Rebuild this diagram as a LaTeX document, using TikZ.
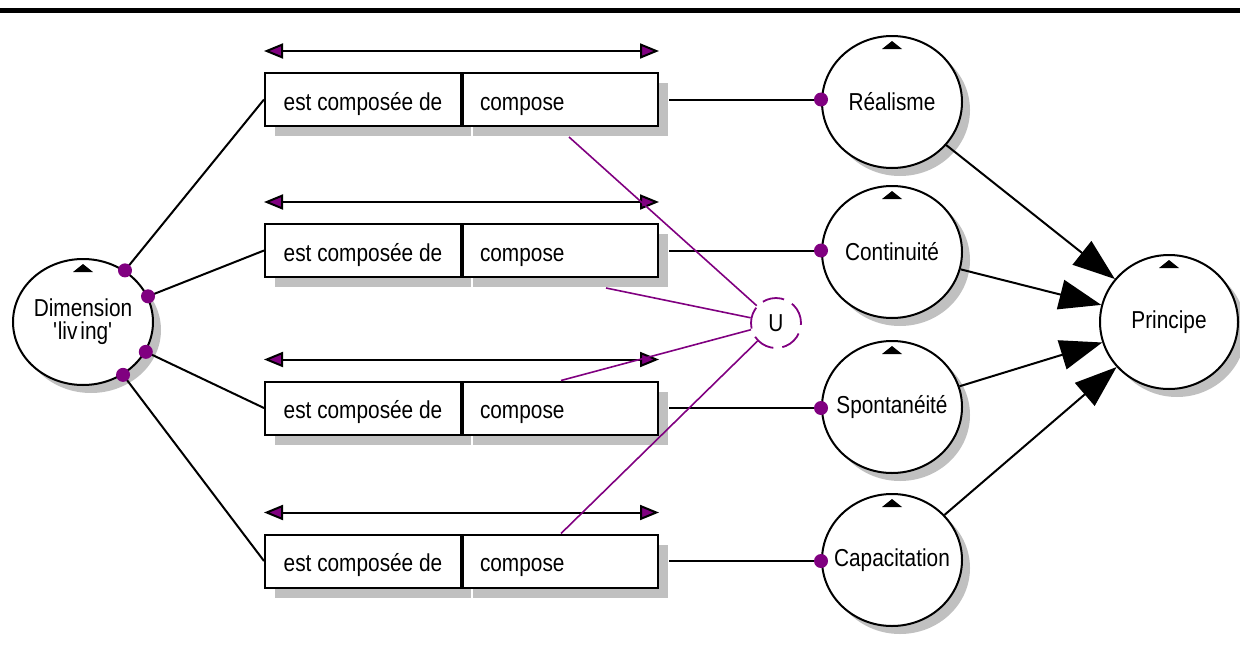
\documentclass[tikz,border=0pt]{standalone}
\usepackage{fontspec}
\setmainfont{Liberation Sans}[FakeStretch=0.85]
\usetikzlibrary{arrows.meta,shapes.geometric,shadows,calc}
\definecolor{pur}{RGB}{128,0,128}
\definecolor{shg}{RGB}{192,192,192}
\begin{document}
\begin{tikzpicture}[x=1pt,y=-1pt,font=\fontsize{24.5}{23}\selectfont,
  shd/.style={drop shadow={shadow xshift=#1, shadow yshift=-#1, fill=shg, opacity=1}},
  box/.style={draw, line width=2pt, fill=white, minimum height=53pt, inner sep=0pt,
    text height=24pt, text depth=3pt,
    drop shadow={shadow xshift=10pt, shadow yshift=-10pt, fill=shg, opacity=1}},
  boxl/.style={box, minimum width=196pt},
  boxr/.style={box, anchor=west, inner xsep=17pt, text width=161pt, align=left},
  circ/.style={ellipse, draw, line width=2pt, fill=white, inner sep=0pt,
    minimum width=140pt, minimum height=132pt, shd=8pt},
  ctext/.style={label={[align=center]center:#1}},
  conn/.style={line width=2pt},
  dbl/.style={line width=2pt, {Triangle[length=19pt,width=15pt,fill=pur]}-{Triangle[length=19pt,width=15pt,fill=pur]}},
  big/.style={line width=2pt, -{Triangle[length=42pt,width=30pt]}},
  uline/.style={pur, line width=1.6pt},
  dot/.style={pur},
]
\useasboundingbox (0,0) rectangle (1240,656);
\draw[line width=4.5pt] (0,10.3) -- (1240,10.3);

% left circle
\node[circ, minimum width=140pt, minimum height=126pt,
  ctext={Dimension\\\textquotesingle liv\hspace{3pt}ing\textquotesingle}] (dim) at (83,322) {};

% boxes
\foreach \i/\y in {1/99.5,2/250.5,3/408,4/561}{
  \node[boxl] (b\i l) at (363,\y) {est composée de};
  \node[boxr] (b\i r) at (b\i l.east) {compose};
  \draw[dbl] ([yshift=21pt]b\i l.north west) -- ([yshift=21pt]b\i r.north east);
}

% right circles
\node[circ, ctext={Réalisme}] (c1) at (892,102) {};
\node[circ, ctext={Continuité}] (c2) at (892,252) {};
\node[circ, ctext={Spontanéité}] (c3) at (892,407) {};
\node[circ, ctext={Capacitation}] (c4) at (892,560) {};
\node[circ, minimum width=138pt, minimum height=134pt, ctext={Principe}] (pr) at (1169,322) {};

% small triangles
\foreach \n in {dim,c1,c2,c3,c4,pr}{
  \fill ($(\n.north)+(0,6)$) -- ++(-10,8) -- ++(20,0) -- cycle;
}

% left connectors
\foreach \i in {1,2,3,4}{
  \path (dim) -- (b\i l.west) coordinate[pos=0] (d\i);
  \draw[conn] (d\i) -- (b\i l.west);
  \fill[dot] (d\i) circle (7pt);
}

% right connectors
\foreach \i in {1,2,3,4}{
  \draw[conn] ([xshift=10pt]b\i r.east) -- (b\i r.east -| c\i.west);
  \fill[dot] (b\i r.east -| c\i.west) circle (7pt);
}

% arrows to Principe
\foreach \i in {1,2,3,4}{
  \draw[big] (c\i) -- (pr);
}

% U
\node[circle, draw=pur, line width=1.8pt, dash pattern=on 22pt off 9pt, minimum size=50pt, inner sep=0pt] (U) at (776,323) {U};
\coordinate (e1) at ($(b1r.south west)+(107,10)$);
\coordinate (e2) at ($(b2r.south west)+(144,10)$);
\coordinate (e3) at ($(b3r.north west)+(99,0)$);
\coordinate (e4) at ($(b4r.north west)+(99,0)$);
\foreach \i in {1,2,3,4}{
  \draw[uline] (U) -- (e\i);
}
\end{tikzpicture}
\end{document}
